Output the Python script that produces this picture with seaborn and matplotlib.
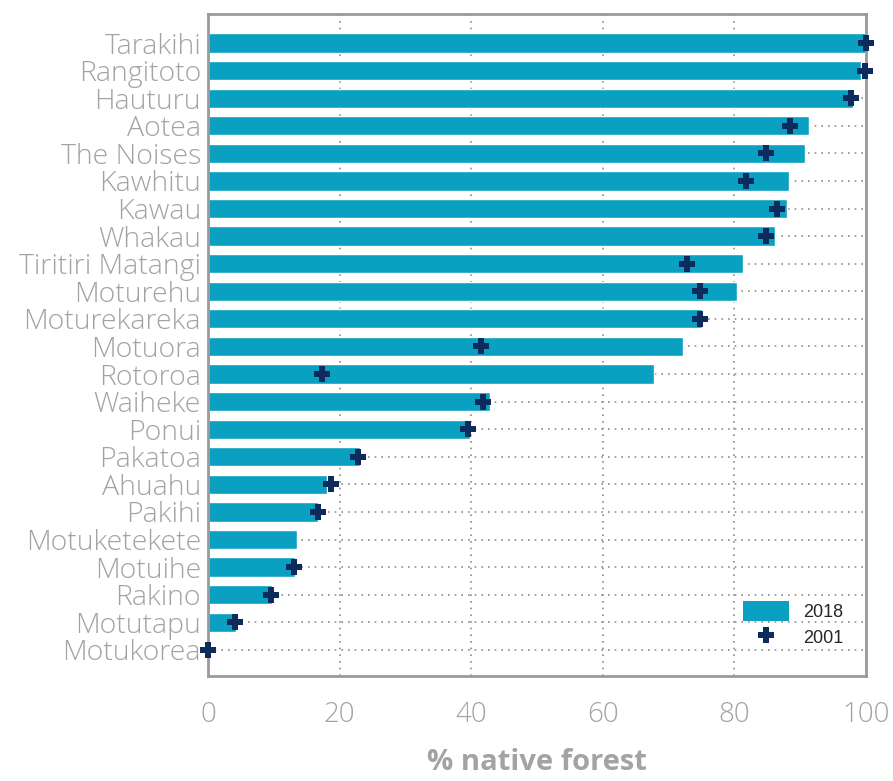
import matplotlib
matplotlib.use("Agg")
import matplotlib.pyplot as plt
import seaborn as sns
import pandas as pd
import numpy as np
from matplotlib.patches import Patch
from matplotlib.lines import Line2D

islands = ["Tarakihi", "Rangitoto", "Hauturu", "Aotea", "The Noises", "Kawhitu",
           "Kawau", "Whakau", "Tiritiri Matangi", "Moturehu", "Moturekareka",
           "Motuora", "Rotoroa", "Waiheke", "Ponui", "Pakatoa", "Ahuahu", "Pakihi",
           "Motuketekete", "Motuihe", "Rakino", "Motutapu", "Motukorea"]
forest_2018 = [100, 99.2, 98.0, 91.3, 90.7, 88.3, 88.0, 86.2, 81.3, 80.4, 75.1,
               72.2, 67.8, 42.9, 39.8, 23.1, 18.1, 16.7, 13.5, 13.2, 9.7, 4.3, 0.0]
forest_2001 = [100, 99.8, 97.7, 88.5, 84.8, 81.8, 86.5, 84.8, 72.8, 74.8, 74.8,
               41.5, 17.3, 41.8, 39.5, 22.8, 18.7, 16.7, np.nan, 13.1, 9.6, 4.1, 0.0]

df = pd.DataFrame({"island": islands, "y2018": forest_2018, "y2001": forest_2001})

sns.set_style("white")
plt.rcParams["font.family"] = ["Open Sans", "DejaVu Sans"]

bar_color = "#0aa0c2"
cross_color = "#0d2b5c"
gray = "#a3a3a3"

fig = plt.figure(figsize=(8.93, 7.81), dpi=100)
ax = fig.add_axes([0.2329, 0.1344, 0.7369, 0.8476])

sns.barplot(data=df, y="island", x="y2018", orient="h", color=bar_color,
            saturation=1, width=0.7, ax=ax, zorder=2)
sns.stripplot(data=df.dropna(), y="island", x="y2001", orient="h", jitter=False,
              marker="P", size=12, color=cross_color, linewidth=0, ax=ax, zorder=3)
for coll in ax.collections:
    coll.set_clip_on(False)

ax.set_xlim(0, 100)
ax.set_ylim(len(islands) - 1 + 0.95, -1.05)
ax.set_xticks([0, 20, 40, 60, 80, 100])
ax.grid(True, axis="both", linestyle=(0, (1, 3)), color="#8c8c8c", linewidth=1.2, zorder=0)
ax.set_axisbelow(True)
for s in ax.spines.values():
    s.set_visible(True)
    s.set_color("#9a9a9a")
    s.set_linewidth(2)

for lab in ax.get_yticklabels():
    lab.set_fontweight("light")
for lab in ax.get_xticklabels():
    lab.set_fontweight("light")
ax.tick_params(axis="y", labelsize=20.5, labelcolor=gray, length=0, pad=5)
ax.tick_params(axis="x", labelsize=20, labelcolor=gray, length=0, pad=18)
ax.set_ylabel("")
ax.set_xlabel("% native forest", fontsize=21, color=gray, fontweight="bold", labelpad=14)

handles = [Patch(facecolor=bar_color, edgecolor="none", label="2018"),
           Line2D([], [], marker="P", linestyle="none", color=cross_color,
                  markersize=11, markeredgewidth=0, label="2001")]
ax.legend(handles=handles, loc="lower right", bbox_to_anchor=(0.99, 0.02),
          frameon=False, handlelength=2.5, handleheight=1.3,
          labelspacing=0.3, prop={"family": "Liberation Sans", "size": 13})

fig.savefig("out.png", dpi=100)
